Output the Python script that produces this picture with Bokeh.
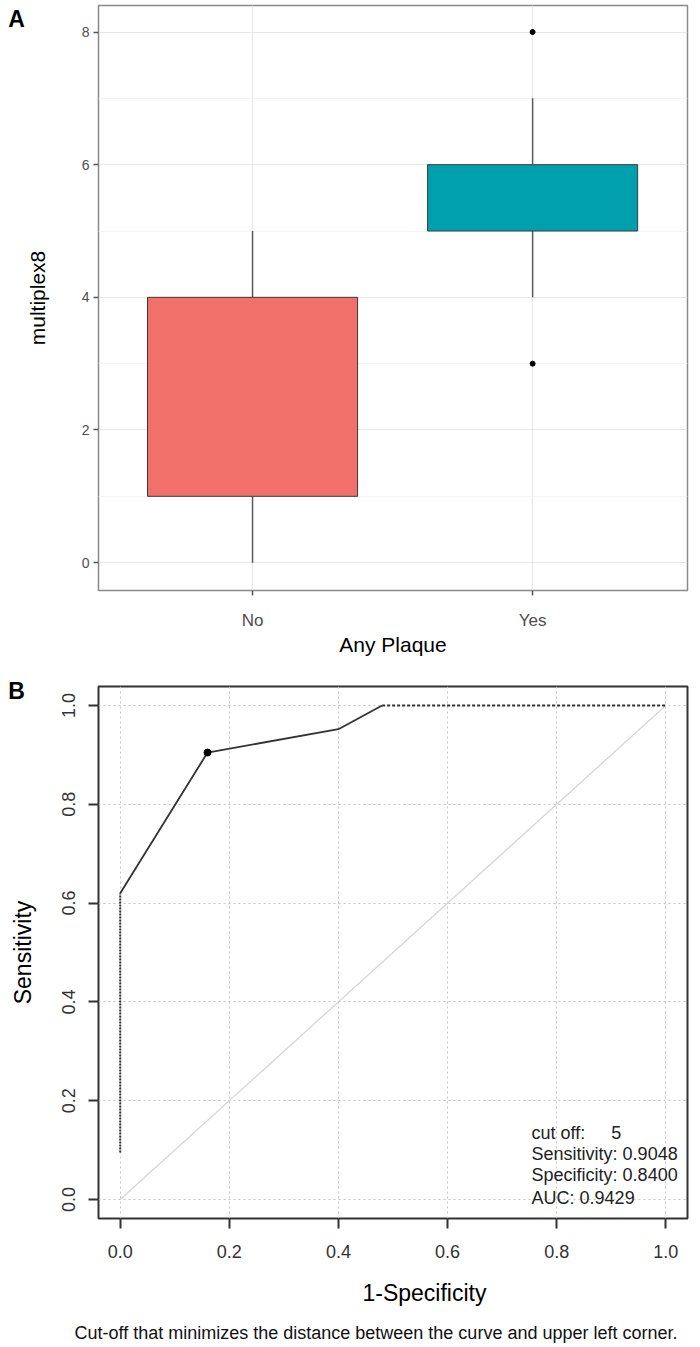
from bokeh.plotting import figure
from bokeh.models import Range1d, FixedTicker, Label, ColumnDataSource, Title, NumeralTickFormatter
from bokeh.layouts import column
from bokeh.embed import file_html
from bokeh.resources import INLINE

FONT = "Liberation Sans"

# ---------------- Panel A data (box plot) ----------------
groups = ["No", "Yes"]
group_pos = [1, 2]
box_q1 = [1, 5]
box_median = [2, 6]
box_q3 = [4, 6]
whisker_low = [0, 4]
whisker_high = [5, 7]
box_colors = ["#F2706A", "#00A0AE"]
outlier_pos = [2, 2]
outlier_vals = [8, 3]
a_yticks = [0, 2, 4, 6, 8]
a_yminor = [1, 3, 5, 7]

# ---------------- Panel B data (ROC) ----------------
roc_fpr = [0.0, 0.16, 0.40, 0.48]
roc_tpr = [0.62, 0.9048, 0.952, 1.0]
low_ext_fpr = [0.0, 0.0]
low_ext_tpr = [0.095, 0.62]
up_ext_fpr = [0.48, 1.0]
up_ext_tpr = [1.0, 1.0]
diag = [0.0, 1.0]
cut_fpr = [0.16]
cut_tpr = [0.9048]
b_ticks = [0.0, 0.2, 0.4, 0.6, 0.8, 1.0]
info_lines = ["Sensitivity: 0.9048", "Specificity: 0.8400", "AUC: 0.9429"]
cutoff_value = "5"

# ================= Panel A =================
p1 = figure(width=700, height=658, x_range=Range1d(0.45, 2.553),
            y_range=Range1d(-0.42, 8.4), output_backend="svg",
            toolbar_location=None, min_border_left=98, min_border_right=13,
            min_border_top=5, min_border_bottom=66)
p1.background_fill_color = "#ffffff"
p1.border_fill_color = "#ffffff"
p1.outline_line_color = "#8a8a8a"
p1.outline_line_width = 1.5

p1.xaxis.ticker = FixedTicker(ticks=group_pos)
p1.xaxis.major_label_overrides = {p: g for p, g in zip(group_pos, groups)}
p1.xgrid.ticker = FixedTicker(ticks=group_pos)
p1.yaxis.ticker = FixedTicker(ticks=a_yticks, minor_ticks=a_yminor)
p1.ygrid.ticker = FixedTicker(ticks=a_yticks, minor_ticks=a_yminor)
p1.xgrid.grid_line_color = "#e8e8e8"
p1.ygrid.grid_line_color = "#e8e8e8"
p1.ygrid.minor_grid_line_color = "#f4f4f4"
for ax in (p1.xaxis[0], p1.yaxis[0]):
    ax.axis_line_color = None
    ax.major_tick_in = 0
    ax.major_tick_out = 5
    ax.major_tick_line_color = "#555555"
    ax.major_tick_line_width = 1.5
    ax.minor_tick_line_color = None
    ax.major_label_text_color = "#4d4d4d"
    ax.major_label_text_font = FONT
    ax.axis_label_text_font = FONT
    ax.axis_label_text_font_style = "normal"
    ax.axis_label_text_color = "#000000"
    ax.axis_label_text_font_size = "21px"
p1.xaxis.major_label_text_font_size = "17px"
p1.xaxis.major_label_standoff = 15
p1.xaxis.axis_label = "Any Plaque"
p1.xaxis.axis_label_standoff = 0
p1.yaxis.major_label_text_font_size = "14px"
p1.yaxis.major_label_standoff = 4
p1.yaxis.axis_label = "multiplex8"
p1.yaxis.axis_label_standoff = 30

src = ColumnDataSource(dict(x=group_pos, q1=box_q1, med=box_median, q3=box_q3,
                            lo=whisker_low, hi=whisker_high, color=box_colors))
p1.segment(x0="x", y0="q3", x1="x", y1="hi", source=src, line_color="#595959", line_width=1.5)
p1.segment(x0="x", y0="lo", x1="x", y1="q1", source=src, line_color="#595959", line_width=1.5)
p1.vbar(x="x", width=0.75, bottom="q1", top="q3", source=src, fill_color="color",
        line_color="#3a3a3a", line_width=1)
p1.rect(x="x", y="med", width=0.75, height=0, source=src, line_color="#3a3a3a",
        line_width=1.2, fill_color=None)
p1.scatter(outlier_pos, outlier_vals, size=5, color="#000000")

p1.add_layout(Label(x=16, y=18, x_units="canvas", y_units="canvas", text="A",
                    text_font=FONT, text_font_size="23px", text_font_style="bold",
                    text_color="#000000", text_align="center", text_baseline="middle"), "left")

# ================= Panel B =================
p2 = figure(width=700, height=689, x_range=Range1d(-0.0398, 1.0398),
            y_range=Range1d(-0.0385, 1.0385), output_backend="svg",
            toolbar_location=None, min_border_left=94, min_border_right=9,
            min_border_top=28, min_border_bottom=129)
p2.background_fill_color = "#ffffff"
p2.border_fill_color = "#ffffff"
p2.outline_line_color = "#333333"
p2.outline_line_width = 2

for ax in (p2.xaxis[0], p2.yaxis[0]):
    ax.ticker = FixedTicker(ticks=b_ticks)
    ax.formatter = NumeralTickFormatter(format="0.0")
    ax.axis_line_color = None
    ax.major_tick_in = 0
    ax.major_tick_out = 10
    ax.major_tick_line_color = "#333333"
    ax.major_tick_line_width = 2
    ax.minor_tick_line_color = None
    ax.major_label_text_color = "#333333"
    ax.major_label_text_font = FONT
    ax.major_label_text_font_size = "18px"
    ax.axis_label_text_font = FONT
    ax.axis_label_text_font_style = "normal"
    ax.axis_label_text_color = "#000000"
    ax.axis_label_text_font_size = "23px"
p2.xaxis.major_label_standoff = 16
p2.yaxis.major_label_standoff = 13
p2.yaxis.major_label_orientation = "parallel"
p2.yaxis.axis_label = "Sensitivity"
p2.yaxis.axis_label_standoff = 24
for g in (p2.xgrid[0], p2.ygrid[0]):
    g.ticker = FixedTicker(ticks=b_ticks)
    g.grid_line_color = "#c4c4c4"
    g.grid_line_dash = "2 3"
    g.grid_line_width = 1

p2.line(diag, diag, line_color="#d4d4d4", line_width=1.2)
p2.line(low_ext_fpr, low_ext_tpr, line_color="#333333", line_width=2, line_dash="2 1")
p2.line(up_ext_fpr, up_ext_tpr, line_color="#333333", line_width=2, line_dash="3 2")
p2.line(roc_fpr, roc_tpr, line_color="#333333", line_width=1.8)
p2.scatter(cut_fpr, cut_tpr, size=7, color="#000000")

info_y = [0.0911, 0.0486, 0.004]
p2.add_layout(Label(x=0.754, y=0.1356, text="cut off:", text_font=FONT,
                    text_font_size="18px", text_color="#222222", text_baseline="middle"))
p2.add_layout(Label(x=0.900, y=0.1356, text=cutoff_value, text_font=FONT,
                    text_font_size="18px", text_color="#222222", text_baseline="middle"))
for t, yy in zip(info_lines, info_y):
    p2.add_layout(Label(x=0.754, y=yy, text=t, text_font=FONT, text_font_size="18px",
                        text_color="#222222", text_baseline="middle"))

p2.add_layout(Title(text="1-Specificity", align="left", offset=264, standoff=34,
                    text_font=FONT, text_font_size="23px", text_font_style="normal",
                    text_color="#000000"), "below")
p2.add_layout(Title(text="Cut-off that minimizes the distance between the curve and upper left corner.",
                    align="left", offset=-24, standoff=-4, text_font=FONT,
                    text_font_size="18px", text_font_style="normal",
                    text_color="#111111"), "below")
p2.add_layout(Label(x=16, y=32, x_units="canvas", y_units="canvas", text="B",
                    text_font=FONT, text_font_size="23px", text_font_style="bold",
                    text_color="#000000", text_align="center", text_baseline="middle"), "above")

layout = column(p1, p2, spacing=0)
open("out.html", "w").write(file_html(layout, INLINE))
